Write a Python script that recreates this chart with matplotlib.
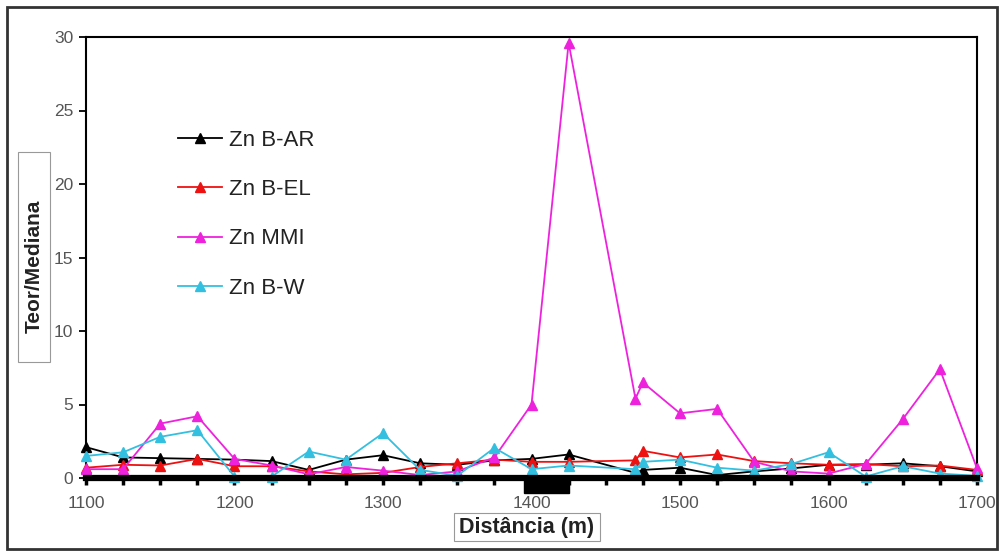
import matplotlib
matplotlib.use("Agg")
import matplotlib.pyplot as plt
from matplotlib.patches import Rectangle
from matplotlib.ticker import MultipleLocator

plt.rcParams['font.family'] = ['Liberation Sans', 'DejaVu Sans']

distance = [1100, 1125, 1150, 1175, 1200, 1225, 1250, 1275, 1300, 1325, 1350, 1375,
            1400, 1425, 1470, 1475, 1500, 1525, 1550, 1575, 1600, 1625, 1650, 1675, 1700]
zn_b_ar = [2.1, 1.4, 1.35, 1.3, 1.25, 1.15, 0.55, 1.25, 1.55, 1.0, 0.9, 1.2,
           1.3, 1.6, 0.35, 0.55, 0.7, 0.2, 0.45, 0.65, 0.9, 0.9, 1.0, 0.8, 0.45]
zn_b_el = [0.7, 0.9, 0.85, 1.3, 0.8, 0.8, 0.45, 0.25, 0.35, 0.75, 1.0, 1.25,
           1.1, 1.1, 1.2, 1.85, 1.4, 1.6, 1.15, 1.0, 0.9, 0.95, 0.8, 0.85, 0.55]
zn_mmi = [0.6, 0.6, 3.7, 4.2, 1.3, 0.85, 0.25, 0.75, 0.5, 0.2, 0.45, 1.4,
          5.0, 29.6, 5.4, 6.5, 4.4, 4.7, 1.1, 0.45, 0.3, 0.95, 4.0, 7.4, 0.65]
zn_b_w = [1.5, 1.75, 2.8, 3.25, 0.1, 0.1, 1.8, 1.25, 3.05, 0.55, 0.15, 2.05,
          0.6, 0.85, 0.6, 1.1, 1.25, 0.7, 0.5, 0.95, 1.75, 0.1, 0.8, 0.3, 0.15]
ore_zone = (1395, 1425)

series = [("Zn B-AR", zn_b_ar, "#000000"),
          ("Zn B-EL", zn_b_el, "#ee1111"),
          ("Zn MMI", zn_mmi, "#ee22dd"),
          ("Zn B-W", zn_b_w, "#33c0e0")]

W, H = 1003, 556
fig = plt.figure(figsize=(W / 100, H / 100), dpi=100)
ax = fig.add_axes([86 / W, 1 - 478 / H, (977 - 86) / W, (478 - 37) / H])

for name, vals, col in series:
    ax.plot(distance, vals, color=col, lw=1.3, marker='^', markersize=7.5,
            markeredgecolor=col, label=name, clip_on=False, zorder=3)

ax.set_xlim(1100, 1700)
ax.set_ylim(0, 30)
ax.xaxis.set_major_locator(MultipleLocator(100))
ax.xaxis.set_minor_locator(MultipleLocator(25))
ax.yaxis.set_major_locator(MultipleLocator(5))
ax.tick_params(axis='y', direction='out', length=5, width=1.3, labelsize=12.5,
               labelcolor='#555555', pad=4)
ax.tick_params(axis='x', which='both', direction='out', length=5, width=2.5,
               labelsize=12.5, labelcolor='#555555', pad=8)
for s in ['top', 'right', 'left']:
    ax.spines[s].set_linewidth(1.5)
ax.spines['bottom'].set_linewidth(4.5)
ax.spines['bottom'].set_zorder(4)

ax.add_patch(Rectangle((ore_zone[0], -0.034), ore_zone[1] - ore_zone[0], 0.036,
                       transform=ax.get_xaxis_transform(), color='black',
                       clip_on=False, zorder=5))

leg = ax.legend(loc='upper left', bbox_to_anchor=(178 / W, 1 - 130 / H),
                bbox_transform=fig.transFigure, frameon=False, fontsize=16,
                handlelength=2.0, handletextpad=0.3, labelspacing=1.27,
                borderpad=0, borderaxespad=0)
for t in leg.get_texts():
    t.set_color('#222222')

# y label box
fig.patches.append(Rectangle((18 / W, 1 - 362 / H), 32 / W, 210 / H,
                             transform=fig.transFigure, fill=False,
                             edgecolor='#999999', lw=0.8))
fig.text(34 / W, 1 - 266 / H, "Teor/Mediana", rotation=90, ha='center',
         va='center', fontsize=15, fontweight='bold', color='#222222')
# x label box
fig.patches.append(Rectangle((454 / W, 1 - 541 / H), 146 / W, 28 / H,
                             transform=fig.transFigure, fill=False,
                             edgecolor='#999999', lw=0.8))
fig.text(527 / W, 1 - 527 / H, "Distância (m)", ha='center', va='center',
         fontsize=15.5, fontweight='bold', color='#222222')

# outer frame
fig.patches.append(Rectangle((7 / W, 1 - 549 / H), 990 / W, 542 / H,
                             transform=fig.transFigure, fill=False,
                             edgecolor='#333333', lw=2))

fig.savefig("out.png", dpi=100)
